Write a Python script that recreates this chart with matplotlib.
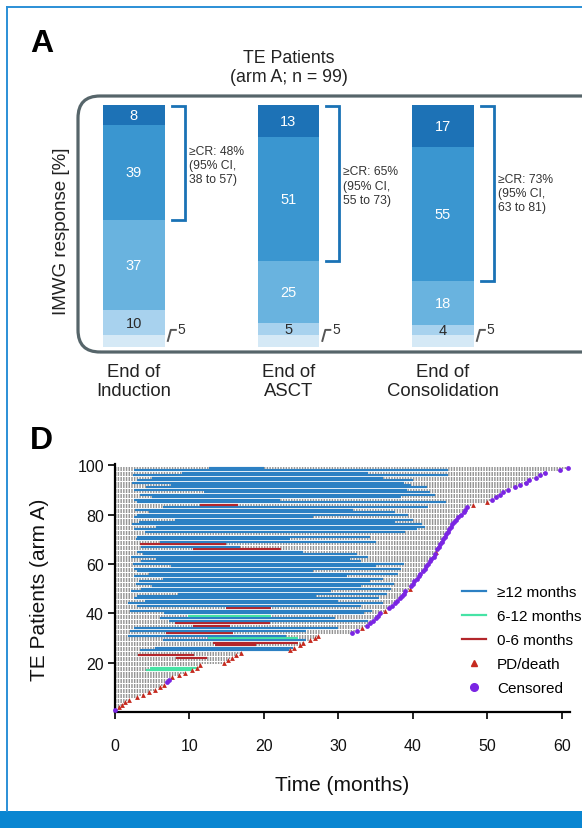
import matplotlib
matplotlib.use("Agg")
import matplotlib.pyplot as plt
from matplotlib.patches import FancyBboxPatch, Rectangle
from matplotlib.lines import Line2D

plt.rcParams['font.family'] = ['Liberation Sans', 'DejaVu Sans']

# --- Panel A data (IMWG response, %) ---
stages = ['End of\nInduction', 'End of\nASCT', 'End of\nConsolidation']
seg_low = [5, 5, 5]
seg_pr = [10, 5, 4]
seg_vgpr = [37, 25, 18]
seg_cr = [39, 51, 55]
seg_scr = [8, 13, 17]
cr_rate = [48, 65, 73]
ci_low = [38, 55, 63]
ci_high = [57, 73, 81]

# --- Panel D data (swimmer plot, TE patients arm A) ---
follow_up = [0.0, 0.5, 0.9, 1.4, 1.9, 3.0, 3.8, 4.6, 5.4, 6.0,
             6.6, 7.0, 7.3, 7.7, 8.6, 9.4, 10.3, 11.0, 11.4, 14.7,
             15.2, 15.7, 16.3, 16.9, 23.5, 24.0, 24.9, 25.3, 26.2, 26.8,
             27.2, 31.8, 32.5, 33.2, 33.8, 34.3, 34.7, 35.0, 35.3, 35.6,
             36.2, 36.8, 37.2, 37.6, 37.9, 38.3, 38.6, 38.8, 39.0, 39.6,
             39.8, 40.0, 40.2, 40.5, 40.8, 41.0, 41.3, 41.6, 41.8, 42.0,
             42.3, 42.5, 42.8, 43.0, 43.1, 43.3, 43.5, 43.7, 43.9, 44.1,
             44.3, 44.5, 44.7, 44.9, 45.1, 45.3, 45.5, 45.8, 46.1, 46.5,
             46.8, 47.0, 47.3, 48.1, 49.9, 50.6, 51.2, 51.7, 52.1, 52.8,
             53.7, 54.4, 55.2, 55.6, 56.6, 57.1, 57.7, 59.7, 60.8]
# P = PD/death, C = censored (patient 1 .. 99)
events = ("C" + "PPPPPPPPPP" + "CC" + "PPPPPPPPPPPPPPPPPP" + "CC" + "P"
          + "CCCCCC" + "P" + "CCCCCCCC" + "P" + "CCCCCCCCCCCCCC" + "P"
          + "CCCCCCCCCCCCCCCCCC" + "PP" + "CCCCCCCCCCCCCC")

# response duration bars: patient, start, end, group (b >=12, g 6-12, r 0-6)
resp_patient = [17, 18, 22, 23, 25, 26, 27, 28, 29, 30,
                31, 32, 33, 34, 35, 36, 37, 38, 39, 40,
                41, 42, 43, 44, 45, 46, 47, 48, 49, 50,
                51, 52, 53, 54, 55, 56, 57, 58, 59, 60,
                61, 62, 63, 64, 65, 66, 67, 68, 69, 70,
                71, 73, 74, 75, 76, 77, 78, 79, 80, 81,
                82, 83, 84, 85, 86, 87, 88, 89, 90, 91,
                92, 93, 94, 95, 96, 97, 98, 99]
resp_start = [4.2, 4.7, 8.2, 3.1, 3.4, 5.4, 13.4, 13.2, 6.4, 12.5,
              1.8, 6.8, 2.0, 2.5, 10.5, 8.0, 7.3, 6.0, 9.8, 6.6,
              2.0, 14.9, 3.0, 1.8, 4.0, 2.5, 3.0, 8.5, 2.2, 3.5,
              5.0, 2.8, 3.2, 6.5, 2.5, 4.5, 3.0, 2.6, 7.5, 2.4,
              3.5, 5.5, 2.2, 3.8, 3.0, 10.5, 3.5, 3.3, 6.0, 2.8,
              3.0, 4.0, 2.6, 5.5, 2.3, 3.2, 8.0, 2.5, 3.0, 4.5,
              2.7, 6.5, 11.4, 3.0, 2.5, 5.0, 3.3, 12.0, 2.6, 4.2,
              7.5, 2.3, 3.0, 5.0, 2.4, 9.0, 2.5, 12.6]
resp_end = [10.3, 11.0, 12.4, 10.6, 23.4, 23.9, 19.0, 24.6, 25.7, 24.6,
            23.0, 15.8, 25.7, 30.0, 15.5, 20.8, 34.0, 29.5, 21.0, 33.5,
            34.5, 21.0, 33.0, 36.0, 30.0, 35.5, 27.0, 36.5, 29.0, 37.0,
            33.0, 37.5, 34.2, 36.0, 31.1, 38.0, 26.6, 38.4, 35.0, 38.8,
            33.0, 31.5, 34.0, 32.5, 25.3, 22.3, 16.8, 14.9, 35.0, 23.5,
            34.2, 39.0, 40.5, 41.6, 41.2, 37.6, 40.0, 26.6, 39.4, 37.6,
            31.9, 42.0, 16.5, 44.5, 22.2, 38.4, 43.0, 42.3, 39.2, 41.9,
            39.7, 38.8, 40.0, 36.0, 44.7, 34.0, 44.7, 20.0]
resp_group = ['g', 'g', 'r', 'r', 'b', 'b', 'r', 'r', 'b', 'g',
              'b', 'r', 'b', 'b', 'r', 'r', 'b', 'b', 'g', 'b',
              'b', 'r', 'b', 'b', 'b', 'b', 'b', 'b', 'b', 'b',
              'b', 'b', 'b', 'b', 'b', 'b', 'b', 'b', 'b', 'b',
              'b', 'b', 'b', 'b', 'b', 'r', 'b', 'r', 'b', 'b',
              'b', 'b', 'b', 'b', 'b', 'b', 'b', 'b', 'b', 'b',
              'b', 'b', 'r', 'b', 'b', 'b', 'b', 'b', 'b', 'b',
              'b', 'b', 'b', 'b', 'b', 'b', 'b', 'b']

# --- Styling ---
W, H = 582, 829
seg_colors = ['#d5e9f6', '#a8d2ee', '#69b3df', '#3a96d0', '#1d72b6']
group_colors = {'b': '#2c80c3', 'g': '#46e3a5', 'r': '#b3262b'}
PD_COLOR = '#c62a1f'
CENS_COLOR = '#7a25e3'
GREY = '#8a8a8a'


def fx(px):
    return px / W


def fy(py):
    return 1 - py / H


fig = plt.figure(figsize=(W / 100, H / 100), dpi=100)

# page frame
fig.add_artist(Line2D([fx(7), 1], [fy(8), fy(8)], color='#2b8fd6', lw=1.4))
fig.add_artist(Line2D([fx(7), fx(7)], [fy(8), fy(812)], color='#2b8fd6', lw=1.4))
fig.add_artist(Rectangle((0, 0), 1, 17 / H, transform=fig.transFigure,
                         color='#0a86d1', lw=0))

# ================= Panel A =================
fig.text(fx(30), fy(44), 'A', fontsize=23, fontweight='bold', va='center')
fig.text(fx(289), fy(68), 'TE Patients\n(arm A; n = 99)', fontsize=12.8,
         ha='center', va='center', linespacing=1.2, color='#222222')

box = FancyBboxPatch((0.78, (H - 353) / 100), 5.6, 2.56,
                     boxstyle='round,pad=0,rounding_size=0.22',
                     transform=fig.dpi_scale_trans, fill=False,
                     edgecolor='#56656a', lw=2.3)
fig.add_artist(box)

axA = fig.add_axes([fx(78), fy(348), 504 / W, 242 / H])
axA.set_xlim(-0.362, 2.90)
axA.set_ylim(0, 99)
axA.axis('off')

bw = 0.40
xs = range(len(stages))
stack = [seg_low, seg_pr, seg_vgpr, seg_cr, seg_scr]
for i in xs:
    bottom = 0
    for k, seg in enumerate(stack):
        v = seg[i]
        axA.bar(i, v, bw, bottom=bottom, color=seg_colors[k], lw=0)
        if k >= 1:
            tc = '#2a2a2a' if k == 1 else 'white'
            axA.text(i, bottom + v / 2, str(v), ha='center', va='center',
                     fontsize=10.5, color=tc)
        bottom += v
    right = i + bw / 2
    # >=CR bracket
    ybot = seg_low[i] + seg_pr[i] + seg_vgpr[i]
    x_in, x_out = right + 7 / 154.5, right + 20 / 154.5
    axA.plot([x_in, x_out, x_out, x_in], [98.6, 98.6, ybot, ybot],
             color='#1a72b5', lw=2.0, solid_joinstyle='miter', clip_on=False)
    ty = [74.5, 66, 63][i]
    axA.text(right + 24 / 154.5, ty,
             f'\u2265CR: {cr_rate[i]}%\n(95% CI,\n{ci_low[i]} to {ci_high[i]})',
             fontsize=8.7, va='center', ha='left', linespacing=1.25, color='#333333')
    # pointer to the lowest segment
    axA.plot([right + 3 / 154.5, right + 6 / 154.5, right + 11 / 154.5],
             [2.5, 7, 7], color='#555555', lw=1.4, clip_on=False)
    axA.text(right + 13 / 154.5, 7.3, str(seg_low[i]), fontsize=10,
             va='center', ha='left', color='#333333')

for i, lab in enumerate(stages):
    fig.text(fx([134, 289, 443][i]), fy(382), lab, ha='center', va='center',
             fontsize=13.3, linespacing=1.15, color='#222222')

fig.text(fx(62), fy(231), 'IMWG response [%]', rotation=90, ha='center',
         va='center', fontsize=13.5, color='#222222')

# ================= Panel D =================
fig.text(fx(30), fy(441), 'D', fontsize=23, fontweight='bold', va='center')

axD = fig.add_axes([fx(115), fy(713), 455 / W, 248 / H])
axD.set_xlim(0, 61.1)
axD.set_ylim(0, 100.5)

for p, (fu, ev) in enumerate(zip(follow_up, events), start=1):
    if fu > 0:
        axD.plot([0, fu], [p, p], color=GREY, lw=1.3, dashes=(0.8, 0.7),
                 solid_capstyle='butt', zorder=1)

for p, s, e, g in zip(resp_patient, resp_start, resp_end, resp_group):
    axD.plot([s, e], [p, p], color=group_colors[g], lw=1.55,
             solid_capstyle='butt', zorder=2)

pd_x = [fu for fu, ev in zip(follow_up, events) if ev == 'P']
pd_y = [p for p, ev in enumerate(events, start=1) if ev == 'P']
cs_x = [fu for fu, ev in zip(follow_up, events) if ev == 'C']
cs_y = [p for p, ev in enumerate(events, start=1) if ev == 'C']
axD.scatter(pd_x, pd_y, marker='^', s=12, color=PD_COLOR, lw=0, zorder=3,
            clip_on=False)
axD.scatter(cs_x, cs_y, marker='o', s=12, color=CENS_COLOR, lw=0, zorder=3,
            clip_on=False)

for sp in ['top', 'right']:
    axD.spines[sp].set_visible(False)
for sp in ['left', 'bottom']:
    axD.spines[sp].set_linewidth(1.6)
axD.set_xticks(range(0, 61, 10))
axD.set_yticks(range(20, 101, 20))
axD.tick_params(axis='both', direction='out', length=5, width=1.3,
                labelsize=11.5, colors='#111111', pad=14)
axD.tick_params(axis='y', pad=3)

fig.text(fx(342), fy(786), 'Time (months)', fontsize=15, ha='center',
         va='center', color='#111111')
fig.text(fx(40), fy(590), 'TE Patients (arm A)', fontsize=15, rotation=90,
         ha='center', va='center', color='#111111')

handles = [
    Line2D([], [], color=group_colors['b'], lw=1.6, label='\u226512 months'),
    Line2D([], [], color=group_colors['g'], lw=1.6, label='6-12 months'),
    Line2D([], [], color=group_colors['r'], lw=1.6, label='0-6 months'),
    Line2D([], [], color=PD_COLOR, marker='^', ls='none', ms=5, label='PD/death'),
    Line2D([], [], color=CENS_COLOR, marker='o', ls='none', ms=5.5, label='Censored'),
]
axD.legend(handles=handles, loc='upper left', frameon=False, fontsize=11,
           bbox_to_anchor=(fx(462), fy(586)), bbox_transform=fig.transFigure,
           borderpad=0, borderaxespad=0, handlelength=1.6, handletextpad=0.7,
           labelspacing=0.66)

fig.savefig('out.png', dpi=100)
